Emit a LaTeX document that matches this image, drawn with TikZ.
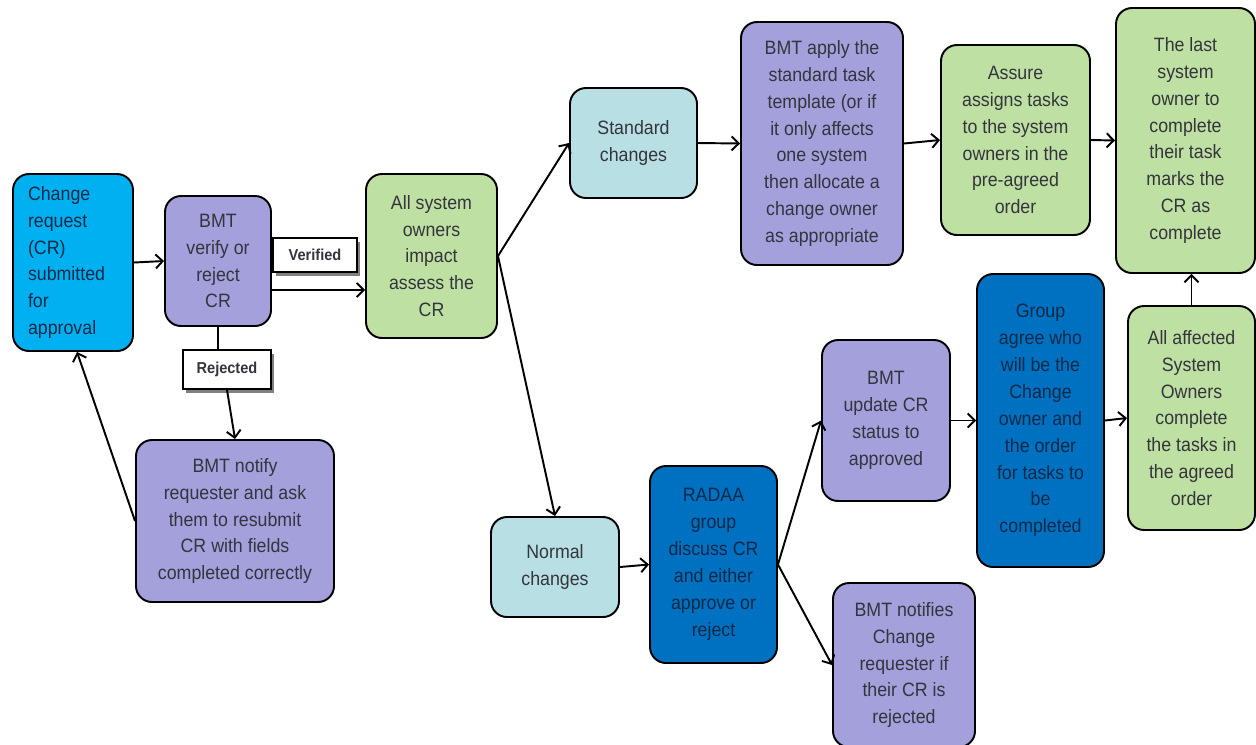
\documentclass[tikz,border=0pt]{standalone}
\usepackage{fontspec}
\setmainfont{Liberation Sans}[FakeStretch=0.92]
\usetikzlibrary{shadows,arrows.meta}
\definecolor{cyanbox}{HTML}{00B0F0}
\definecolor{lavbox}{HTML}{A3A0DC}
\definecolor{greenbox}{HTML}{BFE0A3}
\definecolor{tealbox}{HTML}{B8E0E4}
\definecolor{bluebox}{HTML}{0070C0}
\definecolor{txt}{HTML}{34343C}
\definecolor{navytxt}{HTML}{0C2A48}
\begin{document}
\begin{tikzpicture}[
  box/.style={draw=black, line width=1.1pt, rounded corners=0.32cm, align=center,
    inner sep=2pt, text=txt, font=\fontsize{11}{15.3}\selectfont},
  lav/.style={box, fill=lavbox},
  grn/.style={box, fill=greenbox},
  teal/.style={box, fill=tealbox},
  blu/.style={box, fill=bluebox, text=navytxt},
  tag/.style={draw=black, line width=1pt, fill=white, text=txt,
    font=\fontsize{9}{11}\selectfont\bfseries, minimum width=1.68cm,
    drop shadow={shadow xshift=1.6pt, shadow yshift=-2pt, fill=gray, opacity=1}},
  arr/.style={-{Straight Barb[length=4pt,width=8pt]}, line width=1.1pt}
]
\useasboundingbox (0,0) rectangle (25.12,-14.88);

\node[box, fill=cyanbox, text=navytxt, align=left, minimum width=2.4cm, minimum height=3.54cm, text width=1.8cm]
  (cr) at (1.46,-5.25) {Change\\request\\(CR)\\submitted\\for\\approval};
\node[lav, minimum width=2.12cm, minimum height=2.6cm] (verify) at (4.36,-5.22) {BMT\\verify or\\reject\\CR};
\node[tag, minimum height=0.68cm] (verified) at (6.3,-5.1) {Verified};
\node[tag, minimum width=1.76cm, minimum height=0.78cm] (rejected) at (4.54,-7.39) {Rejected};
\node[lav, minimum width=3.96cm, minimum height=3.24cm] (notify) at (4.7,-10.42)
  {BMT notify\\requester and ask\\them to resubmit\\CR with fields\\completed correctly};
\node[grn, minimum width=2.62cm, minimum height=3.28cm] (allsys) at (8.63,-5.12)
  {All system\\owners\\impact\\assess the\\CR};

\node[teal, minimum width=2.54cm, minimum height=2.2cm] (standard) at (12.67,-2.86) {Standard\\changes};
\node[lav, minimum width=3.24cm, minimum height=4.86cm] (apply) at (16.44,-2.87)
  {BMT apply the\\standard task\\template (or if\\it only affects\\one system\\then allocate a\\change owner\\as appropriate};
\node[grn, minimum width=2.98cm, minimum height=3.8cm] (assure) at (20.31,-2.8)
  {Assure\\assigns tasks\\to the system\\owners in the\\pre-agreed\\order};
\node[grn, minimum width=2.78cm, minimum height=5.3cm] (last) at (23.71,-2.81)
  {The last\\system\\owner to\\complete\\their task\\marks the\\CR as\\complete};

\node[teal, minimum width=2.56cm, minimum height=2cm] (normal) at (11.1,-11.34) {Normal\\changes};
\node[blu, minimum width=2.54cm, minimum height=3.94cm] (radaa) at (14.27,-11.29)
  {RADAA\\group\\discuss CR\\and either\\approve or\\reject};
\node[lav, minimum width=2.56cm, minimum height=3.22cm] (update) at (17.72,-8.41)
  {BMT\\update CR\\status to\\approved};
\node[lav, minimum width=2.84cm, minimum height=3.28cm] (notifies) at (18.08,-13.3)
  {BMT notifies\\Change\\requester if\\their CR is\\rejected};
\node[blu, minimum width=2.54cm, minimum height=5.86cm] (group) at (20.81,-8.41)
  {Group\\agree who\\will be the\\Change\\owner and\\the order\\for tasks to\\be\\completed};
\node[grn, minimum width=2.54cm, minimum height=4.48cm] (affected) at (23.83,-8.36)
  {All affected\\System\\Owners\\complete\\the tasks in\\the agreed\\order};

\draw[arr] (cr.east) -- (verify.west);
\draw[arr] ([yshift=-0.58cm]verify.east) coordinate (v) -- (v -| allsys.west);
\draw[line width=1.1pt] (verify.south) -- (verify.south |- rejected.north);
\draw[arr] (rejected.south) -- (notify.north);
\draw[arr] (notify.west) -- ([xshift=0.08cm]cr.south);
\draw[arr] (allsys.east) -- (standard.west);
\draw[arr] (allsys.east) -- (normal.north);
\draw[arr] (standard.east) -- (apply.west);
\draw[arr] (apply.east) -- (assure.west);
\draw[arr] (assure.east) -- (last.west);
\draw[arr] (normal.east) -- (radaa.west);
\draw[arr] (radaa.east) -- (update.west);
\draw[arr] (radaa.east) -- (notifies.west);
\draw[arr] (update.east) -- (group.west);
\draw[arr] (group.east) -- (affected.west);
\draw[arr] (affected.north) -- (affected.north |- last.south);
\end{tikzpicture}
\end{document}
